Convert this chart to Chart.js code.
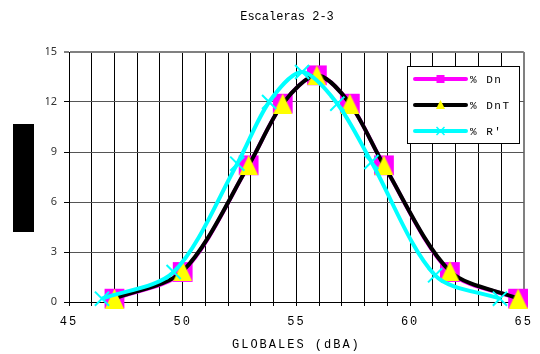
<!DOCTYPE html>
<html><head><meta charset="utf-8">
<script src="https://cdn.jsdelivr.net/npm/chart.js@4"></script>
<style>html,body{margin:0;padding:0;background:#fff;}#wrap{width:540px;height:354px;}</style>
</head><body><div id="wrap"><canvas id="c" width="540" height="354"></canvas></div>
<script>
// ---- data ----
const chartTitle = 'Escaleras 2-3';
const xAxisTitle = 'GLOBALES (dBA)';
const seriesLabels = ['% Dn', '% DnT', "% R'"];
const xTickLabels = [45, 50, 55, 60, 65];
const yTickLabels = [0, 3, 6, 9, 12, 15];

const dnX  = [47.0, 50.0, 52.9, 54.4, 55.9, 57.35, 58.85, 61.75, 64.75];
const dnY  = [0.2, 1.8, 8.2, 11.9, 13.6, 11.9, 8.2, 1.8, 0.2];
const dntX = [47.0, 50.0, 52.9, 54.4, 55.9, 57.35, 58.85, 61.75, 64.75];
const dntY = [0.2, 1.85, 8.2, 11.9, 13.6, 11.9, 8.2, 1.85, 0.2];
const rX   = [46.45, 49.6, 52.4, 53.8, 55.25, 56.8, 58.3, 61.1, 63.95];
const rY   = [0.2, 1.8, 8.3, 12.0, 13.8, 11.9, 8.4, 1.6, 0.2];

const toPts = (xs, ys) => xs.map((x, i) => ({x: x, y: ys[i]}));

// triangle marker image
function triangle(w, h, color) {
  const c = document.createElement('canvas');
  c.width = w; c.height = h;
  const g = c.getContext('2d');
  g.fillStyle = color;
  g.beginPath(); g.moveTo(w / 2, 0); g.lineTo(w, h); g.lineTo(0, h); g.closePath(); g.fill();
  return c;
}
const triBig = triangle(19, 20, '#FFFF00');

const MONO = "'Liberation Mono', monospace";

const decor = {
  id: 'decor',
  afterLayout(chart) {
    const x = chart.scales.x;
    if (x && !x._ls) {
      const dl = x.drawLabels, dt = x.drawTitle;
      x.drawLabels = function (a) { const c = this.ctx; c.save(); c.letterSpacing = '2px'; dl.call(this, a); c.restore(); };
      x.drawTitle = function (a) { const c = this.ctx; c.save(); c.letterSpacing = '2px'; dt.call(this, a); c.restore(); };
      x._ls = true;
    }
  },
  beforeDraw(chart) {
    const c = chart.ctx;
    c.save();
    c.fillStyle = '#000';
    c.fillRect(13, 124, 21, 108);
    c.restore();
  },
  afterDraw(chart) {
    const c = chart.ctx;
    const ds = chart.data.datasets;
    const bx = 407, by = 66, bw = 112, bh = 77;
    c.save();
    c.fillStyle = '#fff';
    c.fillRect(bx, by, bw, bh);
    c.strokeStyle = '#000';
    c.lineWidth = 1;
    c.strokeRect(bx + 0.5, by + 0.5, bw, bh);
    const rows = [79, 105, 131];
    ds.forEach((d, i) => {
      const y = rows[i];
      c.strokeStyle = d.borderColor;
      c.lineWidth = 4;
      c.lineCap = 'round';
      c.beginPath(); c.moveTo(415, y); c.lineTo(466, y); c.stroke();
      const mx = 440.5;
      if (i === 0) { c.fillStyle = '#FF00FF'; c.fillRect(mx - 4, y - 4, 8, 8); }
      if (i === 1) { c.fillStyle = '#FFFF00'; c.beginPath(); c.moveTo(mx, y - 5); c.lineTo(mx + 4.5, y + 4); c.lineTo(mx - 4.5, y + 4); c.closePath(); c.fill(); }
      if (i === 2) { c.strokeStyle = '#00FFFF'; c.lineWidth = 1.5; c.lineCap = 'butt'; c.beginPath(); c.moveTo(mx - 4, y - 4); c.lineTo(mx + 4, y + 4); c.moveTo(mx + 4, y - 4); c.lineTo(mx - 4, y + 4); c.stroke(); }
      c.fillStyle = '#000';
      c.font = '11px ' + MONO;
      c.letterSpacing = '1.5px';
      c.textBaseline = 'middle';
      c.textAlign = 'left';
      c.fillText(d.label, 470, y + 1);
      c.letterSpacing = '0px';
    });
    c.restore();
  }
};

new Chart(document.getElementById('c'), {
  type: 'line',
  data: {
    datasets: [
      { label: seriesLabels[0], data: toPts(dnX, dnY), order: 3, clip: false,
        borderColor: '#FF00FF', backgroundColor: '#FF00FF', borderWidth: 4, tension: 0.3,
        pointStyle: 'rect', pointRadius: 14, pointHoverRadius: 14, pointBackgroundColor: '#FF00FF', pointBorderWidth: 0 },
      { label: seriesLabels[1], data: toPts(dntX, dntY), order: 2, clip: false,
        borderColor: '#000000', backgroundColor: '#FFFF00', borderWidth: 4, tension: 0.3,
        pointStyle: triBig, pointRadius: 10, pointHoverRadius: 10, pointBorderWidth: 0 },
      { label: seriesLabels[2], data: toPts(rX, rY), order: 1, clip: false,
        borderColor: '#00FFFF', backgroundColor: '#00FFFF', borderWidth: 4, tension: 0.3,
        pointStyle: 'crossRot', pointRadius: 10, pointHoverRadius: 10, pointBorderColor: '#00FFFF', pointBorderWidth: 2 }
    ]
  },
  options: {
    responsive: false,
    animation: false,
    devicePixelRatio: 1,
    layout: { padding: { left: 46, right: 12, top: 0, bottom: 0 } },
    plugins: {
      legend: { display: false },
      tooltip: { enabled: false },
      title: { display: true, text: chartTitle, color: '#000',
        font: { family: MONO, size: 12, weight: 'normal' }, padding: { top: 10, bottom: 27.6 } }
    },
    scales: {
      x: {
        type: 'linear', min: 45, max: 65,
        afterFit(s) { s.height = 52; },
        ticks: { stepSize: 1, autoSkip: false, maxRotation: 0, color: '#000', padding: 9,
          font: { family: MONO, size: 12 },
          callback: v => (xTickLabels.includes(v) ? String(v) : '') },
        grid: { color: c => (c.tick && c.tick.value === 65 ? '#808080' : '#000'),
          lineWidth: c => (c.tick && c.tick.value === 65 ? 2 : 1),
          tickColor: '#000', tickWidth: 1, tickLength: 4 },
        border: { color: '#000', width: 1 },
        title: { display: true, text: xAxisTitle, color: '#000', font: { family: MONO, size: 12 },
          padding: { top: 0, bottom: 2 } }
      },
      y: {
        min: 0, max: 15,
        afterFit(s) { s.width = 23; },
        ticks: { stepSize: 3, color: '#333', padding: 7,
          font: { family: "'Noto Sans', sans-serif", size: 11 },
          callback: v => (yTickLabels.includes(v) ? String(v) : '') },
        grid: { color: c => (c.tick && c.tick.value === 15 ? '#808080' : '#555'),
          lineWidth: c => (c.tick && c.tick.value === 15 ? 2 : 1),
          tickColor: '#000', tickWidth: 1, tickLength: 5 },
        border: { color: '#000', width: 1 }
      }
    }
  },
  plugins: [decor]
});
</script>
</body></html>
